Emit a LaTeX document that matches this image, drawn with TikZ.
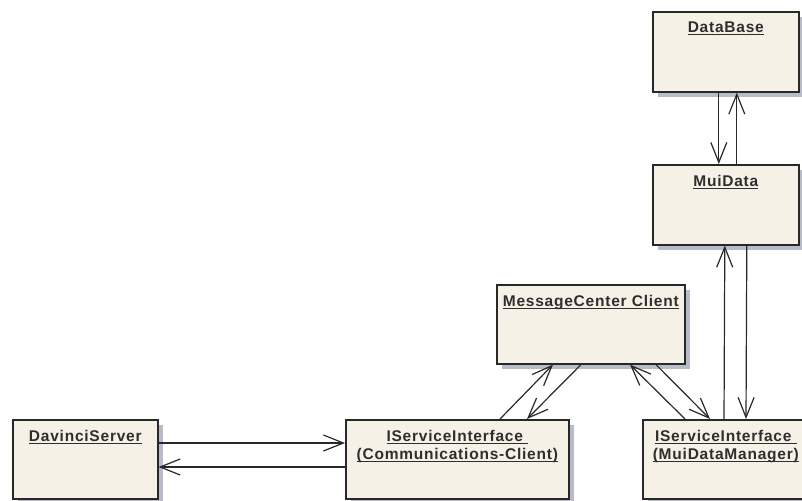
\documentclass[tikz,border=0pt]{standalone}
\usepackage{fontspec}
\newfontfamily\umlfont{Liberation Sans}[LetterSpace=5]
\usetikzlibrary{positioning, arrows.meta, shadows}
\definecolor{clsfill}{RGB}{245,241,231}
\definecolor{clsedge}{RGB}{40,40,40}
\definecolor{clsshadow}{RGB}{184,188,200}
\definecolor{linkgray}{RGB}{40,40,40}
% underlined class name with a fixed rule below the baseline
\newsavebox\namebox
\newcommand\clsname[1]{\sbox\namebox{#1}\rlap{\rule[-2.6pt]{\wd\namebox}{1.3pt}}\usebox\namebox}

\begin{document}
\begin{tikzpicture}[x=1pt, y=-1pt,
    cls/.style={draw=clsedge, line width=1.6pt, fill=clsfill, anchor=north west, inner sep=0pt,
      general shadow={fill=clsshadow, shadow xshift=5pt, shadow yshift=-5pt}},
    title/.style={font=\umlfont\bfseries\fontsize{15.5}{18}\selectfont, anchor=north, inner sep=0pt,
      align=center, text=black!82},
    link/.style={draw=linkgray, line width=1.2pt, -{Straight Barb[length=20pt, width=16pt]}}]
  \clip (0,0) rectangle (802,500);

  % class boxes
  \node[cls, minimum width=146, minimum height=80] (db) at (652,11) {};
  \node[cls, minimum width=146, minimum height=80] (mui) at (652,164) {};
  \node[cls, minimum width=188, minimum height=79] (mc) at (496,284) {};
  \node[cls, minimum width=145, minimum height=79] (ds) at (12,419) {};
  \node[cls, minimum width=223, minimum height=79] (comm) at (345,419) {};
  \node[cls, minimum width=166, minimum height=79] (mdm) at (642,419) {};

  % class names
  \node[title] (dbname) at ([yshift=-11pt]db.north) {\clsname{DataBase}};
  \node[title] (muiname) at ([yshift=-11pt]mui.north) {\clsname{MuiData}};
  \node[title] (mcname) at ([yshift=-11pt]mc.north) {\clsname{MessageCenter Client}};
  \node[title] (dsname) at ([yshift=-11pt]ds.north) {\clsname{DavinciServer}};
  \node[title] (commname) at ([yshift=-11pt]comm.north)
    {\clsname{IServiceInterface\ }\\\clsname{(Communications-Client)}};
  \node[title] (mdmname) at ([yshift=-11pt]mdm.north)
    {\clsname{IServiceInterface\ }\\\clsname{(MuiDataManager)}};

  % messages
  \draw[link] ([xshift=-7pt]db.south) -- ([xshift=-7pt]mui.north);
  \draw[link] ([xshift=11pt]mui.north) -- ([xshift=11pt]db.south);
  \draw[link] ([xshift=82pt]mdm.north west) -- ([xshift=-1pt]mui.south);
  \draw[link] ([xshift=21pt]mui.south) -- ([xshift=104pt]mdm.north west);
  \draw[link] ([xshift=155pt]comm.north west) -- ([xshift=57pt]mc.south west);
  \draw[link] ([xshift=85pt]mc.south west) -- ([xshift=182pt]comm.north west);
  \draw[link] ([xshift=43pt]mdm.north west) -- ([xshift=134pt]mc.south west);
  \draw[link] ([xshift=160pt]mc.south west) -- ([xshift=68pt]mdm.north west);
  \draw[link] ([yshift=-24pt]ds.north east) -- ([yshift=-24pt]comm.north west);
  \draw[link] ([yshift=-48pt]comm.north west) -- ([yshift=-48pt]ds.north east);
\end{tikzpicture}
\end{document}
